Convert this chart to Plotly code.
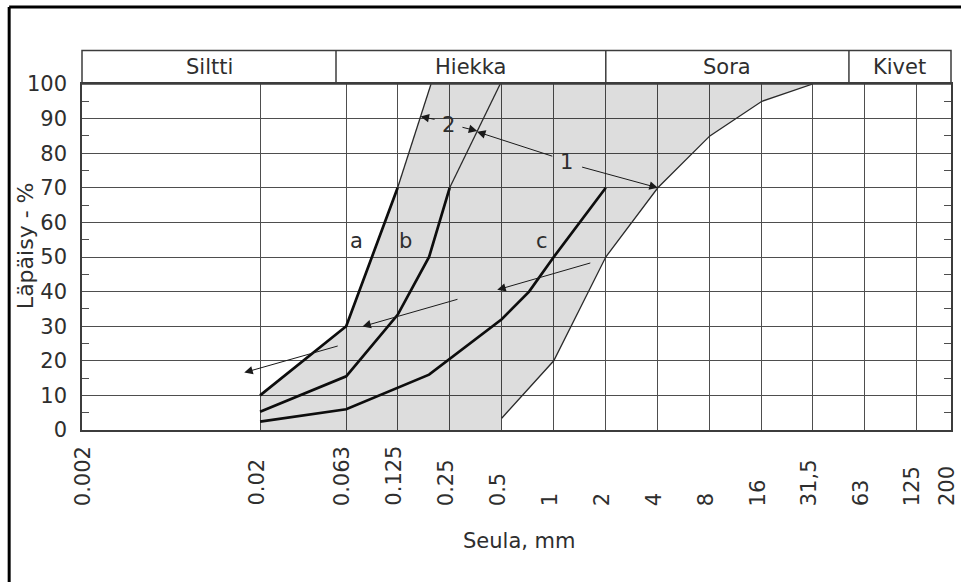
import math
import plotly.graph_objects as go

# Sieve sizes (mm) shown on the grading chart and their printed labels
sieve_mm = [0.002, 0.02, 0.063, 0.125, 0.25, 0.5, 1, 2, 4, 8, 16, 31.5, 63, 125, 200]
sieve_labels = ["0.002", "0.02", "0.063", "0.125", "0.25", "0.5", "1", "2",
                "4", "8", "16", "31,5", "63", "125", "200"]
passing_ticks = [0, 10, 20, 30, 40, 50, 60, 70, 80, 90, 100]
minor_ticks = [5, 15, 25, 35, 45, 55, 65, 75, 85, 95]

# Soil fraction bands across the top
fraction_names = ["Siltti", "Hiekka", "Sora", "Kivet"]
fraction_limits = [0.055, 2, 51]

# Grading curves (sieve mm, passing %)
curve_a_x = [0.02, 0.063, 0.125]
curve_a_y = [10, 30, 70]
curve_a_top_x = [0.125, 0.195]
curve_a_top_y = [70, 100]

curve_b_x = [0.02, 0.063, 0.125, 0.19, 0.25]
curve_b_y = [5.3, 15.5, 33.3, 50, 70]
curve_b_top_x = [0.25, 0.49]
curve_b_top_y = [70, 100]

curve_c_x = [0.02, 0.063, 0.19, 0.5, 0.72, 1, 2]
curve_c_y = [2.4, 6, 16, 32, 40, 50, 70]

# Coarse limit of the grading envelope
limit_x = [0.5, 1, 2, 4, 8, 16, 31.5]
limit_y = [3.4, 20, 50, 70, 85, 95, 100]

XMIN, XMAX = -2.729, 2.298
FONT = "DejaVu Sans"
TXT = "#2e2e2e"
GRID = "#4e4e4e"

L, R, T, B = 82, 8, 84, 152
W, H = 961, 582
plot_w = W - L - R
plot_h = H - T - B


def lg(v):
    return math.log10(v)


def x_on(xs, ys, y):
    """log10 sieve size where a polyline reaches the given passing %."""
    for i in range(len(xs) - 1):
        y0, y1 = ys[i], ys[i + 1]
        if min(y0, y1) <= y <= max(y0, y1):
            f = (y - y0) / (y1 - y0)
            return lg(xs[i]) + f * (lg(xs[i + 1]) - lg(xs[i]))
    return lg(xs[-1])


fig = go.Figure()

# Envelope area: between curve a and the coarse limit
env_x = curve_a_x + [curve_a_top_x[-1]] + limit_x[::-1] + [limit_x[0], curve_a_x[0]]
env_y = curve_a_y + [curve_a_top_y[-1]] + limit_y[::-1] + [0, 0]
fig.add_trace(go.Scatter(x=env_x, y=env_y, fill="toself",
                         fillcolor="rgba(0,0,0,0.135)", line=dict(width=0),
                         mode="lines", hoverinfo="skip", showlegend=False))

thin = dict(color="#2a2a2a", width=1.3)
thick = dict(color="#0d0d0d", width=2.7)
for xs, ys in [(curve_a_top_x, curve_a_top_y), (curve_b_top_x, curve_b_top_y),
               (limit_x, limit_y)]:
    fig.add_trace(go.Scatter(x=xs, y=ys, mode="lines", line=thin,
                             hoverinfo="skip", showlegend=False))
for xs, ys in [(curve_a_x, curve_a_y), (curve_b_x, curve_b_y), (curve_c_x, curve_c_y)]:
    fig.add_trace(go.Scatter(x=xs, y=ys, mode="lines", line=thick,
                             hoverinfo="skip", showlegend=False))

annotations = []
font = dict(family=FONT, size=21, color=TXT)

# Sieve labels, rotated and reading upwards from a common baseline
label_base = (H - B - 508) / plot_h
for v, t in zip(sieve_mm, sieve_labels):
    annotations.append(dict(x=min(max(lg(v), XMIN), XMAX), y=label_base,
                            xref="x", yref="paper", text=t, textangle=-90,
                            showarrow=False, xanchor="center", yanchor="bottom",
                            xshift=-4, font=font))

# Axis titles
annotations.append(dict(x=0.504, y=(H - B - 541) / plot_h, xref="paper", yref="paper",
                        text="Seula, mm", showarrow=False,
                        xanchor="center", yanchor="middle", font=font))
annotations.append(dict(x=(25 - L) / plot_w, y=(H - B - 246) / plot_h,
                        xref="paper", yref="paper",
                        text="Läpäisy - %", textangle=-90, showarrow=False,
                        xanchor="center", yanchor="middle",
                        font=dict(family=FONT, size=22, color=TXT)))

# Fraction band labels
bounds = [XMIN] + [lg(v) for v in fraction_limits] + [XMAX]
band_h = 33.6 / plot_h
for i, name in enumerate(fraction_names):
    annotations.append(dict(x=(bounds[i] + bounds[i + 1]) / 2, y=1 + band_h / 2,
                            xref="x", yref="paper", text=name, showarrow=False,
                            xanchor="center", yanchor="middle", font=font))

# Curve names
for name, xv, yv in [("a", 0.0722, 54.5), ("b", 0.1393, 54.5), ("c", 0.857, 54.5)]:
    annotations.append(dict(x=lg(xv), y=yv, text=name, showarrow=False,
                            xanchor="center", yanchor="middle", font=font))

# Zone numbers
for name, xv, yv in [("2", 0.2477, 88.2), ("1", 1.19, 77.6)]:
    annotations.append(dict(x=lg(xv), y=yv, text=name, showarrow=False,
                            xanchor="center", yanchor="middle", font=font))


def arrow(x_tip, y_tip, x_tail, y_tail):
    return dict(x=x_tip, y=y_tip, ax=x_tail, ay=y_tail, xref="x", yref="y",
                axref="x", ayref="y", text="", showarrow=True, arrowhead=2,
                arrowsize=1.7, arrowwidth=1, arrowcolor="#1a1a1a")


annotations += [
    arrow(x_on(curve_a_top_x, curve_a_top_y, 90.6), 90.6, lg(0.2085), 89.7),
    arrow(x_on(curve_b_top_x, curve_b_top_y, 86.4), 86.4, lg(0.2905), 87.6),
    arrow(x_on(curve_b_top_x, curve_b_top_y, 86.2), 86.2, lg(1.0), 79.0),
    arrow(x_on(limit_x, limit_y, 70), 70, lg(1.43), 76.1),
    arrow(lg(0.0162), 16.6, lg(0.0574), 24.4),
    arrow(lg(0.0782), 29.9, lg(0.283), 37.9),
    arrow(lg(0.471), 40.5, lg(1.66), 48.4),
]

shapes = [
    # fraction band frame and dividers
    dict(type="rect", xref="paper", yref="paper", x0=0, x1=1, y0=1, y1=1 + band_h,
         line=dict(color="#3c3c3c", width=1.5)),
]
for v in fraction_limits:
    shapes.append(dict(type="line", xref="x", yref="paper", x0=v, x1=v,
                       y0=1, y1=1 + band_h, line=dict(color="#3c3c3c", width=1.5)))
# outer frame (left and top edges)
fx = (9 - L) / plot_w
fy = (H - B - 7) / plot_h
shapes.append(dict(type="line", xref="paper", yref="paper", x0=fx, x1=fx,
                   y0=-1, y1=fy, line=dict(color="black", width=3)))
shapes.append(dict(type="line", xref="paper", yref="paper", x0=fx, x1=2,
                   y0=fy, y1=fy, line=dict(color="black", width=3)))

fig.update_layout(
    width=W, height=H, autosize=False,
    margin=dict(l=L, r=R, t=T, b=B),
    paper_bgcolor="white", plot_bgcolor="white",
    showlegend=False,
    annotations=annotations, shapes=shapes,
    xaxis=dict(type="log", range=[XMIN, XMAX], tickvals=sieve_mm[1:-1],
               showticklabels=False, ticks="", showgrid=True, gridcolor=GRID,
               gridwidth=1.2, showline=True, linecolor="#3c3c3c", linewidth=1.5,
               mirror=True, zeroline=False, fixedrange=True),
    yaxis=dict(range=[0, 100], tickvals=passing_ticks, ticks="", showgrid=True,
               gridcolor=GRID, gridwidth=1.2, showline=True, linecolor="#3c3c3c",
               linewidth=1.5, mirror="ticks", zeroline=False, ticklabelstandoff=9,
               tickfont=font,
               minor=dict(tickvals=minor_ticks, ticks="inside", ticklen=7,
                          tickcolor="#4e4e4e", tickwidth=1.2, showgrid=False),
               fixedrange=True),
)

fig.write_html("out.html")
